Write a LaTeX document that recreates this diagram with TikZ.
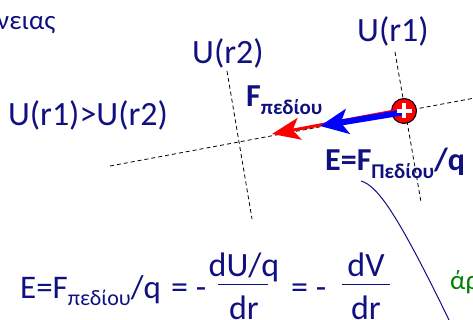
\documentclass[tikz,border=0pt]{standalone}
\usepackage{fontspec}
\setmainfont{Carlito}
\usetikzlibrary{arrows.meta,positioning,calc}
\definecolor{navy}{RGB}{16,16,128}
\definecolor{leafgreen}{RGB}{0,128,0}
\newcommand{\lowtext}[2]{\raisebox{-0.22em}{\fontsize{#1}{#1}\selectfont #2}}

\begin{document}
\begin{tikzpicture}[x=1pt, y=-1pt,
        % Estilos
        label/.style={text=navy, inner sep=0pt, font=\fontsize{34}{36}\selectfont},
        boldlabel/.style={text=navy, inner sep=0pt, font=\fontsize{32}{34}\selectfont\bfseries},
        formula/.style={text=navy, inner sep=0pt, anchor=base west, font=\fontsize{34}{36}\selectfont},
        equi/.style={dashed, dash pattern=on 4pt off 3pt, line width=0.8pt},
        charge/.style={circle, draw, line width=1pt, fill=red, minimum size=25pt, inner sep=0pt},
        redarrow/.style={red, line width=3pt, -{Stealth[length=28pt, width=22pt, inset=7pt]}},
        bluearrow/.style={blue, line width=6pt, -{Stealth[length=28pt, width=25pt, inset=7pt]}}
    ]
        \useasboundingbox (0,0) rectangle (473,320);
        \clip (0,0) rectangle (473,320);

        % Texto cortado no topo
        \node (top) [label, anchor=base west, font=\fontsize{27}{29}\selectfont] at (-3,30) {νειας};

        % Linhas equipotenciais e linha de campo
        \coordinate (r1a) at (395,52);
        \coordinate (r1b) at (421,202);
        \coordinate (r2a) at (227,71);
        \coordinate (r2b) at (252,219);
        \coordinate (fa) at (110,166);
        \coordinate (fb) at (480,97);
        \draw [equi] (r1a) -- (r1b);
        \draw [equi] (r2a) -- (r2b);
        \draw [equi] (fa) -- (fb);

        % Rótulos
        \node (ur1) [label] at (393,31) {U(r1)};
        \node (ur2) [label] at (228,53) {U(r2)};
        \node (cmp) [label] at (88,115) {U(r1)>U(r2)};

        % Carga e vetores
        \node (q) [charge] at (404,111) {};
        \coordinate (redtip) at (272,134);
        \coordinate (bluetip) at (320,126);
        \draw [redarrow] ($(q.center)+(-2,-1.5)$) -- (redtip);
        \draw [bluearrow] ($(q.center)+(-2,1.5)$) -- (bluetip);
        \draw [white, line width=3.2pt] ($(q.center)+(-7.5,0)$) -- ($(q.center)+(7.5,0)$);
        \draw [white, line width=3.2pt] ($(q.center)+(0,-7.5)$) -- ($(q.center)+(0,7.5)$);

        \node (fpedio) [boldlabel, anchor=base west] at (246,107) {F\lowtext{21}{πεδίου}};
        \node (efield) [boldlabel, anchor=base west] at (325,171) {E=F\lowtext{21}{Πεδίου}/q};

        % Curva
        \draw [navy, line width=1pt] (361,181) .. controls (378,186) and (398,215) .. (450,322);

        % Fórmula
        \node (eq1) [formula, font=\fontsize{33}{35}\selectfont] at (20,298) {E=F\lowtext{22}{πεδίου}/q};
        \node (eq1b) [formula] at (171,298) {= -};
        \node (num1) [formula, anchor=base] at (244,276) {dU/q};
        \node (den1) [formula, anchor=base] at (244,319) {dr};
        \draw [navy, line width=1pt] (218,284) -- (268,284);
        \node (eq2) [formula] at (291,298) {= -};
        \node (num2) [formula, anchor=base] at (366,276) {dV};
        \node (den2) [formula, anchor=base] at (366,319) {dr};
        \draw [navy, line width=1pt] (342,284) -- (390,284);

        \node (ara) [formula, text=leafgreen, font=\fontsize{27}{29}\selectfont] at (450,289) {άρ};
    \end{tikzpicture}
\end{document}
